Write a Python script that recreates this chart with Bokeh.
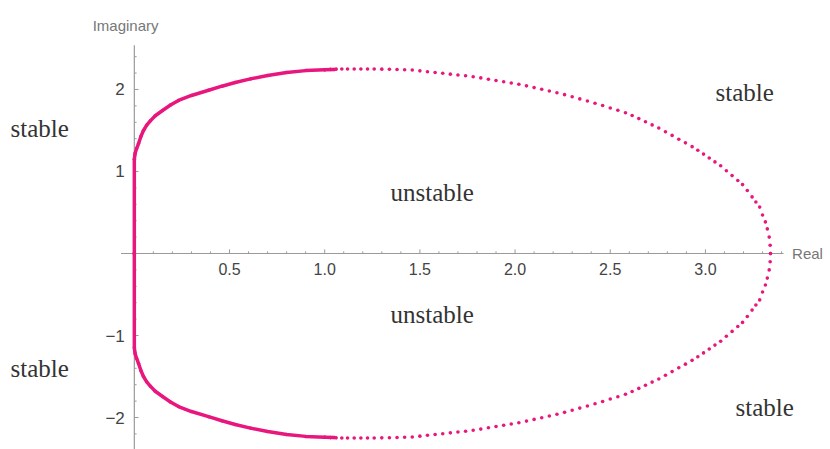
import numpy as np
from bokeh.plotting import figure
from bokeh.models import Range1d, Label
from bokeh.core.properties import value
from bokeh.embed import file_html
from bokeh.resources import INLINE

# ---------------- data ----------------
# dense part of the boundary (upper half): along the imaginary axis, then bending right
dense_re = [0.0, 0.0, 0.004, 0.012, 0.022, 0.035, 0.048, 0.065, 0.085, 0.11, 0.148,
            0.19, 0.232, 0.30, 0.39, 0.46, 0.53, 0.61, 0.70, 0.80, 0.90, 1.00, 1.05]
dense_im = [0.0, 1.15, 1.22, 1.28, 1.34, 1.43, 1.50, 1.565, 1.62, 1.68, 1.744,
            1.81, 1.866, 1.927, 1.99, 2.04, 2.085, 2.129, 2.17, 2.206, 2.23, 2.24, 2.245]

# sparse (separately visible) dots of the boundary, upper half
sparse_re = [1.00, 1.03, 1.06, 1.09, 1.12, 1.155, 1.19, 1.225, 1.26, 1.30, 1.34, 1.38,
             1.42, 1.46, 1.50, 1.54, 1.58, 1.62, 1.66, 1.70, 1.74, 1.78, 1.82, 1.86,
             1.90, 1.94, 1.98, 2.02, 2.06, 2.10, 2.14, 2.18, 2.22, 2.26, 2.30, 2.34,
             2.38, 2.42, 2.46, 2.50, 2.54, 2.58, 2.615, 2.65, 2.685, 2.72, 2.755, 2.79,
             2.825, 2.86, 2.895, 2.93, 2.96, 2.99, 3.02, 3.05, 3.08, 3.11, 3.14, 3.17,
             3.195, 3.22, 3.245, 3.265, 3.285, 3.30, 3.315, 3.325, 3.335, 3.34, 3.342]
sparse_im = [2.24, 2.245, 2.248, 2.25, 2.25, 2.25, 2.25, 2.25, 2.249, 2.248, 2.246, 2.244,
             2.241, 2.237, 2.227, 2.217, 2.207, 2.197, 2.187, 2.177, 2.167, 2.156, 2.141, 2.125,
             2.110, 2.094, 2.079, 2.064, 2.044, 2.023, 2.002, 1.981, 1.960, 1.937, 1.911, 1.885,
             1.859, 1.833, 1.804, 1.775, 1.746, 1.717, 1.683, 1.645, 1.606, 1.568, 1.530, 1.485,
             1.440, 1.394, 1.349, 1.303, 1.259, 1.212, 1.164, 1.117, 1.07, 1.01, 0.95, 0.89,
             0.84, 0.768, 0.690, 0.628, 0.566, 0.47, 0.385, 0.30, 0.20, 0.10, 0.0]

# the lower half is the mirror image of the upper half
dense_im_low = [-v for v in dense_im]
sparse_im_low = [-v for v in sparse_im]

x_major = [0.5, 1.0, 1.5, 2.0, 2.5, 3.0]
x_major_labels = ["0.5", "1.0", "1.5", "2.0", "2.5", "3.0"]
y_major = [-2, -1, 1, 2]
y_major_labels = ["\u22122", "\u22121", "1", "2"]

region_labels = ["stable", "stable", "unstable", "unstable", "stable", "stable"]

# ---------------- styling ----------------
PINK = "#E8167D"
AXIS = "#9a9a9a"
TICK_TXT = "#444444"

p = figure(width=830, height=449,
           x_range=Range1d(-0.703, 3.657), y_range=Range1d(-2.390, 3.085),
           output_backend="svg", toolbar_location=None,
           x_axis_type=None, y_axis_type=None,
           min_border=0, min_border_left=0, min_border_right=0,
           min_border_top=0, min_border_bottom=0)
p.outline_line_color = None
p.background_fill_color = "white"
p.border_fill_color = "white"

# axes lines (crossing at the origin)
p.segment(x0=[-0.07], y0=[0], x1=[3.41], y1=[0], line_color=AXIS, line_width=1.2)
p.segment(x0=[0], y0=[2.54], x1=[0], y1=[-2.40], line_color=AXIS, line_width=1.2)

# ticks
x_minor = [round(v, 1) for v in np.arange(0.1, 3.41, 0.1) if abs(v * 2 - round(v * 2)) > 1e-6]
y_minor = [round(v, 1) for v in np.arange(-2.4, 2.41, 0.2) if abs(v - round(v)) > 1e-6]
XT, XTm = 0.05, 0.026
YT, YTm = 0.022, 0.012
p.segment(x0=x_major, y0=[0] * len(x_major), x1=x_major, y1=[XT] * len(x_major),
          line_color=AXIS, line_width=1)
p.segment(x0=x_minor, y0=[0] * len(x_minor), x1=x_minor, y1=[XTm] * len(x_minor),
          line_color=AXIS, line_width=1)
p.segment(x0=[0] * len(y_major), y0=y_major, x1=[YT] * len(y_major), y1=y_major,
          line_color=AXIS, line_width=1)
p.segment(x0=[0] * len(y_minor), y0=y_minor, x1=[YTm] * len(y_minor), y1=y_minor,
          line_color=AXIS, line_width=1)

# tick labels
p.text(x=x_major, y=[-0.11] * len(x_major), text=x_major_labels,
       text_font=value("Liberation Sans"), text_font_size="16px",
       text_color=TICK_TXT, text_align="center", text_baseline="top")
p.text(x=[-0.05] * len(y_major), y=y_major, text=y_major_labels,
       text_font=value("Liberation Sans"), text_font_size="17px",
       text_color=TICK_TXT, text_align="right", text_baseline="middle")

# boundary curve
for im in (dense_im, dense_im_low):
    p.line(x=dense_re, y=im, line_color=PINK, line_width=3.5, line_join="round", line_cap="round")
    p.scatter(x=dense_re, y=im, size=3.5, fill_color=PINK, line_color=None)
for im in (sparse_im, sparse_im_low):
    p.scatter(x=sparse_re, y=im, size=3.6, fill_color=PINK, line_color=None)

# axis titles
p.add_layout(Label(x=-0.046, y=2.78, text="Imaginary", text_font="Liberation Sans",
                   text_font_size="15px", text_color="#777777",
                   text_align="center", text_baseline="middle"))
p.add_layout(Label(x=3.455, y=0.0, text="Real", text_font="Liberation Sans",
                   text_font_size="15px", text_color="#777777",
                   text_align="left", text_baseline="middle"))

# region labels
lab_x = [-0.650, 3.053, 1.346, 1.346, -0.650, 3.158]
lab_y = [1.524, 1.963, 0.744, -0.744, -1.402, -1.878]
for t, lx, ly in zip(region_labels, lab_x, lab_y):
    p.add_layout(Label(x=lx, y=ly, text=t, text_font="Liberation Serif",
                       text_font_size="25px", text_color="#333333",
                       text_align="left", text_baseline="middle"))

open("out.html", "w").write(file_html(p, INLINE))
